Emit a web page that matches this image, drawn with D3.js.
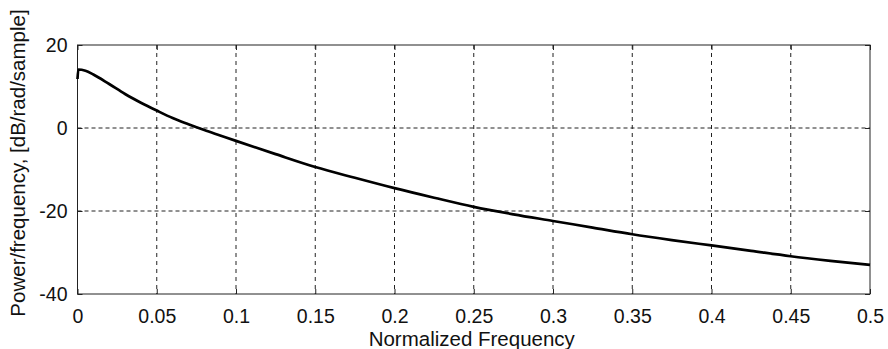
<!DOCTYPE html>
<html><head><meta charset="utf-8">
<script src="https://cdn.jsdelivr.net/npm/d3@7"></script>
<style>
html,body{margin:0;padding:0;background:#fff;}
text{font-family:"Liberation Sans",Arial,Helvetica,sans-serif;fill:#111;}
</style></head>
<body><svg id="chart" width="888" height="349"></svg>
<script>
const freq = [0, 0.0005, 0.005, 0.01, 0.02, 0.03, 0.04, 0.05, 0.06, 0.07, 0.08, 0.09, 0.1, 0.125, 0.15, 0.175, 0.2, 0.225, 0.25, 0.275, 0.3, 0.325, 0.35, 0.375, 0.4, 0.425, 0.45, 0.475, 0.5];
const power = [11.8, 14.1, 13.8, 12.9, 10.6, 8.2, 6.1, 4.2, 2.4, 0.9, -0.5, -1.8, -3.1, -6.3, -9.4, -12.0, -14.5, -16.8, -19.0, -20.8, -22.4, -24.0, -25.6, -27.0, -28.3, -29.6, -30.9, -32.0, -33.0];
const xTicks = [0, 0.05, 0.1, 0.15, 0.2, 0.25, 0.3, 0.35, 0.4, 0.45, 0.5];
const yTicks = [-40, -20, 0, 20];
const xLabel = "Normalized Frequency";
const yLabel = "Power/frequency, [dB/rad/sample]";

const svg = d3.select("#chart");
const L = 77.5, R = 870, T = 45, B = 294;
const x = d3.scaleLinear().domain([0, 0.5]).range([L, R]);
const y = d3.scaleLinear().domain([-40, 20]).range([B, T]);

// grid
const g = svg.append("g");
g.selectAll(".vg").data(xTicks.slice(1, -1)).enter().append("line")
  .attr("x1", d => x(d)).attr("x2", d => x(d)).attr("y1", T).attr("y2", B)
  .attr("stroke", "#222").attr("stroke-width", 1).attr("stroke-dasharray", "4,4");
g.selectAll(".hg").data(yTicks.slice(1, -1)).enter().append("line")
  .attr("y1", d => y(d)).attr("y2", d => y(d)).attr("x1", L).attr("x2", R)
  .attr("stroke", "#222").attr("stroke-width", 1).attr("stroke-dasharray", "4,3");

// axes
const fmt = d => String(d);
svg.append("g").attr("transform", `translate(0,${B})`)
  .call(d3.axisBottom(x).tickValues(xTicks).tickFormat(fmt).tickSize(-5).tickPadding(15))
  .call(a => a.select(".domain").remove())
  .call(a => a.selectAll("text").attr("font-size", "19.5px").attr("fill", "#111").attr("font-family", null));
svg.append("g").attr("transform", `translate(${L},0)`)
  .call(d3.axisLeft(y).tickValues(yTicks).tickFormat(fmt).tickSize(-5).tickPadding(10))
  .call(a => a.select(".domain").remove())
  .call(a => a.selectAll("text").attr("font-size", "19.5px").attr("fill", "#111").attr("font-family", null));
svg.append("g").attr("transform", `translate(0,${T})`)
  .call(d3.axisTop(x).tickValues(xTicks).tickFormat("").tickSize(-5))
  .call(a => a.select(".domain").remove());
svg.append("g").attr("transform", `translate(${R},0)`)
  .call(d3.axisRight(y).tickValues(yTicks).tickFormat("").tickSize(-5))
  .call(a => a.select(".domain").remove());
svg.selectAll(".tick line").attr("stroke", "#222");

svg.append("rect").attr("x", L).attr("y", T).attr("width", R - L).attr("height", B - T)
  .attr("fill", "none").attr("stroke", "#222").attr("stroke-width", 1);

// curve
const line = d3.line().x((d, i) => x(freq[i])).y(d => y(d)).curve(d3.curveMonotoneX);
svg.append("path").datum(power).attr("d", line)
  .attr("fill", "none").attr("stroke", "#000").attr("stroke-width", 2.7).attr("stroke-linejoin", "round");

// labels
svg.append("text").attr("x", (L + R) / 2 - 2).attr("y", 346).attr("text-anchor", "middle")
  .attr("font-size", "20.5px").text(xLabel);
svg.append("text").attr("transform", `translate(25,${163}) rotate(-90)`).attr("text-anchor", "middle")
  .attr("font-size", "20.5px").text(yLabel);
</script></body></html>
